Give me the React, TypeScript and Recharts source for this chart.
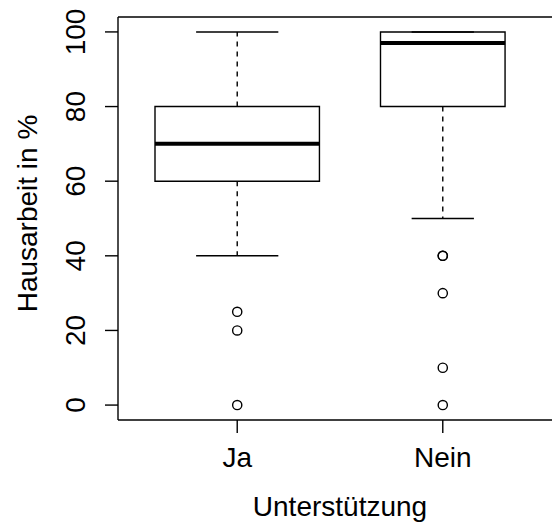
import {
  ComposedChart,
  Scatter,
  XAxis,
  YAxis,
  ReferenceArea,
  ReferenceLine,
} from "recharts";

const groups = ["Ja", "Nein"];
const lowerWhisker = [40, 50];
const lowerQuartile = [60, 80];
const medians = [70, 97];
const upperQuartile = [80, 100];
const upperWhisker = [100, 100];
const outliersJa = [25, 20, 0];
const outliersNein = [40, 40, 30, 10, 0];
const yTicks = [0, 20, 40, 60, 80, 100];

// box half widths (varwidth boxes), in x units
const BOX_HALF = [0.4, 0.303];
const FONT = "'Liberation Sans', Arial, Helvetica, sans-serif";
const FS = 28;

const outlierData = [
  ...outliersJa.map((v) => ({ x: 1, y: v })),
  ...outliersNein.map((v) => ({ x: 2, y: v })),
];

function YTick({ x, y, payload }: any) {
  const tx = x - 18;
  return (
    <text
      x={tx}
      y={y}
      transform={`rotate(-90 ${tx} ${y})`}
      textAnchor="middle"
      fontSize={FS}
      fontFamily={FONT}
      fill="#000"
    >
      {payload.value}
    </text>
  );
}

function XTick({ x, y, payload }: any) {
  return (
    <text x={x} y={y + 32} textAnchor="middle" fontSize={FS} fontFamily={FONT} fill="#000">
      {groups[payload.value - 1]}
    </text>
  );
}

function OpenCircle({ cx, cy }: any) {
  return <circle cx={cx} cy={cy} r={4.6} fill="none" stroke="#000" strokeWidth={1.4} />;
}

export default function App() {
  return (
    <div
      style={{
        position: "absolute",
        left: 0,
        top: 0,
        width: 552,
        height: 524,
        overflow: "hidden",
        background: "#fff",
      }}
    >
      <ComposedChart width={562} height={524} margin={{ top: 17, right: 0, bottom: 0, left: 0 }}>
        <XAxis
          type="number"
          dataKey="x"
          domain={[0.42, 2.58]}
          allowDataOverflow
          ticks={[1, 2]}
          height={104}
          tickSize={13}
          tick={<XTick />}
          axisLine={{ stroke: "#000", strokeWidth: 1.4 }}
          tickLine={{ stroke: "#000", strokeWidth: 1.4 }}
          label={{
            content: ({ viewBox }: any) => (
              <text
                x={viewBox.x + viewBox.width / 2}
                y={viewBox.y + 96}
                textAnchor="middle"
                fontSize={FS}
                fontFamily={FONT}
                fill="#000"
              >
                Unterstützung
              </text>
            ),
          }}
        />
        <YAxis
          type="number"
          dataKey="y"
          domain={[-4, 104]}
          allowDataOverflow
          ticks={yTicks}
          width={118}
          tickSize={13}
          tick={<YTick />}
          axisLine={{ stroke: "#000", strokeWidth: 1.4 }}
          tickLine={{ stroke: "#000", strokeWidth: 1.4 }}
          label={{
            content: ({ viewBox }: any) => {
              const lx = viewBox.x + 37;
              const ly = viewBox.y + viewBox.height / 2 - 5;
              return (
                <text
                  x={lx}
                  y={ly}
                  transform={`rotate(-90 ${lx} ${ly})`}
                  textAnchor="middle"
                  fontSize={FS}
                  fontFamily={FONT}
                  fill="#000"
                >
                  Hausarbeit in %
                </text>
              );
            },
          }}
        />
        <ReferenceLine y={104} stroke="#000" strokeWidth={1.4} />
        {groups.map((g, i) => {
          const c = i + 1;
          const h = BOX_HALF[i];
          return [
            <ReferenceLine
              key={g + "wu"}
              segment={[
                { x: c, y: upperQuartile[i] },
                { x: c, y: upperWhisker[i] },
              ]}
              stroke="#000"
              strokeWidth={1.4}
              strokeDasharray="5 5"
            />,
            <ReferenceLine
              key={g + "wl"}
              segment={[
                { x: c, y: lowerQuartile[i] },
                { x: c, y: lowerWhisker[i] },
              ]}
              stroke="#000"
              strokeWidth={1.4}
              strokeDasharray="5 5"
            />,
            <ReferenceLine
              key={g + "cu"}
              segment={[
                { x: c - h / 2, y: upperWhisker[i] },
                { x: c + h / 2, y: upperWhisker[i] },
              ]}
              stroke="#000"
              strokeWidth={1.4}
            />,
            <ReferenceLine
              key={g + "cl"}
              segment={[
                { x: c - h / 2, y: lowerWhisker[i] },
                { x: c + h / 2, y: lowerWhisker[i] },
              ]}
              stroke="#000"
              strokeWidth={1.4}
            />,
            <ReferenceArea
              key={g + "box"}
              x1={c - h}
              x2={c + h}
              y1={lowerQuartile[i]}
              y2={upperQuartile[i]}
              fill="none"
              fillOpacity={0}
              stroke="#000"
              strokeWidth={1.4}
              strokeOpacity={1}
            />,
            <ReferenceLine
              key={g + "med"}
              segment={[
                { x: c - h, y: medians[i] },
                { x: c + h, y: medians[i] },
              ]}
              stroke="#000"
              strokeWidth={4}
            />,
          ];
        })}
        <Scatter data={outlierData} shape={<OpenCircle />} isAnimationActive={false} />
      </ComposedChart>
    </div>
  );
}
